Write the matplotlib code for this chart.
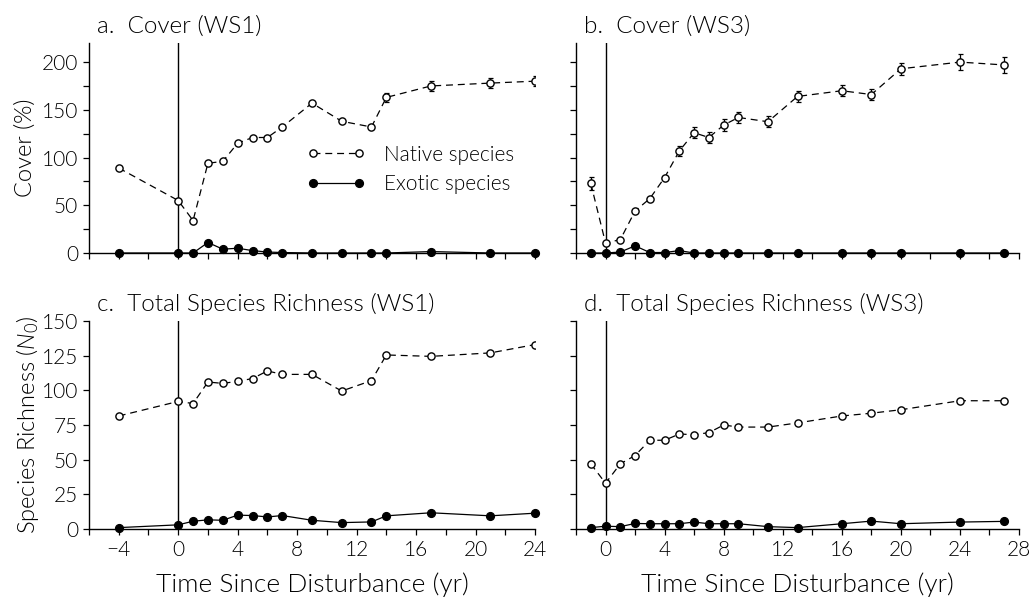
import numpy as np
import matplotlib
matplotlib.use("Agg")
import matplotlib.pyplot as plt
from matplotlib.ticker import MultipleLocator, FuncFormatter

plt.rcParams['font.family'] = ['Lato', 'DejaVu Sans']
plt.rcParams['font.weight'] = 300
plt.rcParams['mathtext.fontset'] = 'custom'
plt.rcParams['mathtext.it'] = 'Lato:italic'
plt.rcParams['mathtext.rm'] = 'Lato'
plt.rcParams['lines.scale_dashes'] = False

# --- WS1 (panels a, c) ---
yr_ws1 = [-4, 0, 1, 2, 3, 4, 5, 6, 7, 9, 11, 13, 14, 17, 21, 24]
cover_native_ws1 = [89, 55, 34, 94, 96, 115, 121, 121, 132, 157, 138, 132, 163, 175, 178, 180]
cover_native_ws1_err = [0, 0, 0, 0, 0, 0, 0, 0, 0, 0, 0, 0, 5, 5, 5, 5]
cover_exotic_ws1 = [0, 0, 0, 11, 4, 5, 2.5, 1, 0.5, 0, 0, 0, 0, 1.5, 0, 0]
rich_native_ws1 = [81.5, 92, 90.5, 106, 105, 106.5, 108.5, 114, 111.5, 111.5, 99.5, 107, 125.5, 124.5, 127, 133]
rich_exotic_ws1 = [1, 3, 5.6, 6.6, 6.3, 10, 9.7, 8.7, 9.7, 6.3, 4.6, 5.1, 9.5, 11.7, 9.5, 11.4]

# --- WS3 (panels b, d) ---
yr_ws3 = [-1, 0, 1, 2, 3, 4, 5, 6, 7, 8, 9, 11, 13, 16, 18, 20, 24, 27]
cover_native_ws3 = [73, 10.5, 14, 44, 57, 79, 107, 126, 121, 134, 142, 137.5, 164, 170, 166, 193, 200, 197]
cover_native_ws3_err = [7, 0, 0, 0, 0, 0, 5, 6, 6, 6, 6, 6, 6, 6, 6, 6, 8, 8]
cover_exotic_ws3 = [0, 0, 1, 7.5, 0.5, 0.5, 2.5, 0, 0, 0, 0, 0, 0, 0, 0, 0, 0, 0]
rich_native_ws3 = [47, 33, 47, 53, 64, 64, 68.5, 68, 69.5, 75, 73.5, 73.5, 76.5, 81.5, 83.5, 86, 92.5, 92.5]
rich_exotic_ws3 = [1, 2, 1.7, 4, 3.8, 3.8, 3.8, 5, 3.8, 3.8, 3.8, 1.7, 1, 3.8, 5.7, 3.8, 5, 5.5]

W, H = 1031, 601
fig = plt.figure(figsize=(W / 100, H / 100), dpi=100)


def rect(l, r, t, b):
    return [l / W, 1 - b / H, (r - l) / W, (b - t) / H]


ax_a = fig.add_axes(rect(89, 535, 43, 253))
ax_b = fig.add_axes(rect(576, 1019, 43, 253))
ax_c = fig.add_axes(rect(89, 535, 321, 529))
ax_d = fig.add_axes(rect(576, 1019, 321, 529))

minus = FuncFormatter(lambda v, p: f"{int(v)}".replace("-", "\u2212"))


def series(ax, x, nat, exo, err=None):
    ax.axvline(0, color='k', lw=1.0, zorder=1)
    if err is not None:
        ax.errorbar(x, nat, yerr=err, fmt='none', ecolor='k', elinewidth=0.9,
                    capsize=1.8, capthick=0.9, zorder=2)
    ax.plot(x, nat, color='k', lw=0.9, ls=(0, (5, 3.5)), marker='o', ms=5.2,
            mfc='white', mec='k', mew=1.0, zorder=4, label='Native species')
    ax.plot(x, exo, color='k', lw=0.9, ls='-', marker='o', ms=5.6,
            mfc='k', mec='k', zorder=5, label='Exotic species', clip_on=False)


def style(ax, xlim, ylim, ystep, ylabels, xlabels):
    ax.set_xlim(*xlim)
    ax.set_ylim(*ylim)
    for s in ['top', 'right']:
        ax.spines[s].set_visible(False)
    for s in ['left', 'bottom']:
        ax.spines[s].set_linewidth(1.0)
    ax.xaxis.set_major_locator(MultipleLocator(4))
    ax.xaxis.set_minor_locator(MultipleLocator(2))
    ax.yaxis.set_major_locator(MultipleLocator(ystep))
    ax.xaxis.set_major_formatter(minus)
    ax.tick_params(which='both', direction='out', length=4, width=0.9,
                   labelsize=15, pad=4)
    if not xlabels:
        ax.tick_params(axis='x', labelbottom=False)
    if not ylabels:
        ax.tick_params(axis='y', labelleft=False)


series(ax_a, yr_ws1, cover_native_ws1, cover_exotic_ws1, cover_native_ws1_err)
series(ax_b, yr_ws3, cover_native_ws3, cover_exotic_ws3, cover_native_ws3_err)
series(ax_c, yr_ws1, rich_native_ws1, rich_exotic_ws1)
series(ax_d, yr_ws3, rich_native_ws3, rich_exotic_ws3)

style(ax_a, (-6, 24), (0, 220), 50, True, False)
ax_a.yaxis.set_minor_locator(MultipleLocator(25))
style(ax_b, (-2, 28), (0, 220), 25, False, False)
style(ax_c, (-6, 24), (0, 150), 25, True, True)
style(ax_d, (-2, 28), (0, 150), 25, False, True)

titles = [(ax_a, "a.  Cover (WS1)"), (ax_b, "b.  Cover (WS3)"),
          (ax_c, "c.  Total Species Richness (WS1)"),
          (ax_d, "d.  Total Species Richness (WS3)")]
for ax, t in titles:
    ax.text(0.018, 1.05, t, transform=ax.transAxes, fontsize=17.5,
            ha='left', va='baseline')

ax_a.legend(loc='upper left', bbox_to_anchor=(0.47, 0.555), frameon=False,
            numpoints=2, handlelength=2.8, handletextpad=0.9, fontsize=15,
            labelspacing=0.45, borderaxespad=0)

fig.text(25 / W, 1 - 148 / H, "Cover (%)", rotation=90, fontsize=17,
         ha='center', va='center')
fig.text(28 / W, 1 - 425 / H, r"Species Richness ($N_0$)", rotation=90,
         fontsize=17, ha='center', va='center')
fig.text(312 / W, 1 - 585 / H, "Time Since Disturbance (yr)", fontsize=19,
         ha='center', va='center')
fig.text(797 / W, 1 - 585 / H, "Time Since Disturbance (yr)", fontsize=19,
         ha='center', va='center')

fig.savefig("out.png", dpi=100)
